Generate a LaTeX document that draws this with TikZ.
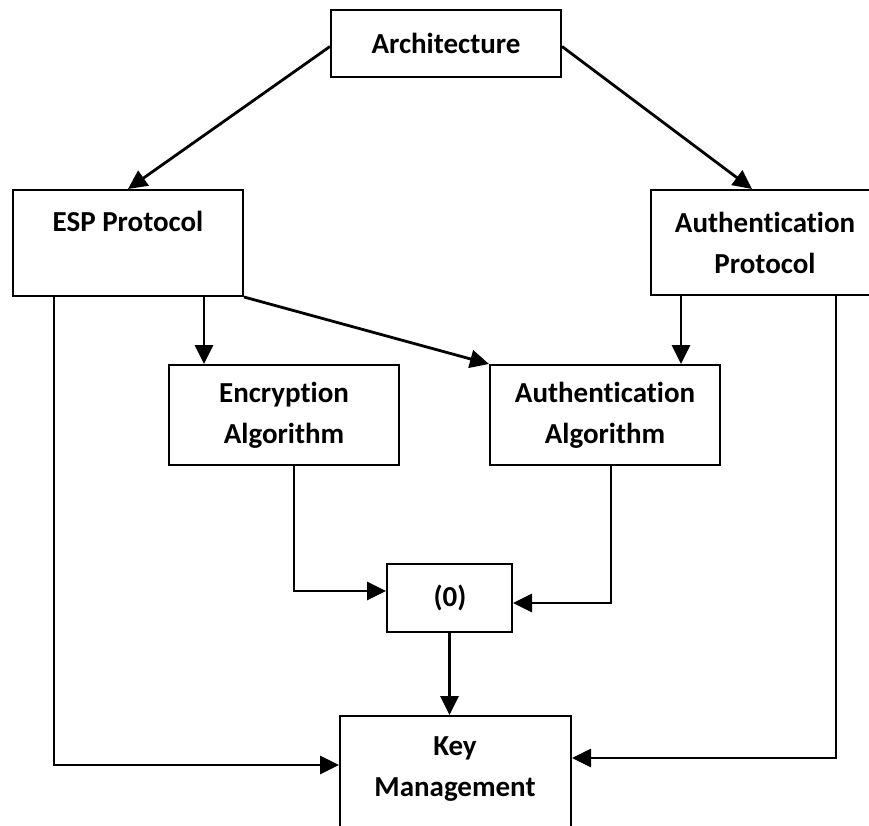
\documentclass[tikz,border=0pt]{standalone}
\usepackage{fontspec}
\setmainfont[Ligatures={NoCommon}]{Carlito}
\usetikzlibrary{arrows.meta,calc}
\tikzset{
  box/.style={draw=black, line width=2pt, minimum width=230pt, inner sep=0pt, fill=white},
  lbl/.style={font=\bfseries\fontsize{29}{41}\selectfont, align=center, inner sep=0pt},
  arr/.style={line width=2.8pt, -{Triangle[length=19pt,width=18pt]}},
}
\begin{document}
\begin{tikzpicture}[x=1pt,y=-1pt]
  \useasboundingbox (0,0) rectangle (869,825);
  \clip (0,0) rectangle (869,825);

  % boxes
  \node[box, minimum height=67pt]  (arch)  at (446,43.5) {};
  \node[box, minimum height=106pt] (esp)   at (128,243) {};
  \node[box, minimum height=105pt] (aprot) at (766,242.5) {};
  \node[box, minimum height=100pt] (enc)   at (284,415) {};
  \node[box, minimum height=100pt] (aalg)  at (605,415) {};
  \node[box, minimum width=125pt, minimum height=68pt] (zero) at (449.5,598) {};
  \node[box, minimum width=231pt, minimum height=140pt] (key) at (455.5,786) {};

  % labels
  \node[lbl] (tarch)  at (446,43) {Architecture};
  \node[lbl] (tesp)   at (128,221) {ESP Protocol};
  \node[lbl] (taprot) at (765,243) {Authentication\\Protocol};
  \node[lbl] (tenc)   at (284,415) {Encryption\\Algorithm};
  \node[lbl] (taalg)  at (605,415) {Authentication\\Algorithm};
  \node[lbl] (tzero)  at (450,598) {(0)};
  \node[lbl] (tkey)   at (455,769) {Key\\Management};

  % connector end points on box edges
  \coordinate (espdown)  at ($(esp.south west)+(192,0)$);
  \coordinate (espleft)  at ($(esp.south west)+(42,0)$);
  \coordinate (apdown)   at ($(aprot.south west)+(31,0)$);
  \coordinate (apright)  at ($(aprot.south west)+(186,0)$);
  \coordinate (encout)   at ($(enc.south west)+(126,0)$);
  \coordinate (aalgout)  at ($(aalg.south west)+(122,0)$);
  \coordinate (zeroin1)  at ($(zero.north west)+(0,28)$);
  \coordinate (zeroin2)  at ($(zero.north east)+(0,40)$);
  \coordinate (keyin1)   at ($(key.north west)+(0,50)$);
  \coordinate (keyin2)   at ($(key.north east)+(0,43)$);

  % connectors
  \draw[arr] ($(arch.west)+(0,3)$) -- (esp.north);
  \draw[arr] ($(arch.east)+(0,3)$) -- ($(aprot.north)+(-14,0)$);
  \draw[arr] (espdown) -- (espdown |- enc.north);
  \draw[arr] (esp.south east) -- (aalg.north west);
  \draw[arr] (apdown) -- (apdown |- aalg.north);
  \draw[arr] (apright) |- (keyin2);
  \draw[arr] (espleft) |- (keyin1);
  \draw[arr] (encout) |- (zeroin1);
  \draw[arr] (aalgout) |- (zeroin2);
  \draw[arr] (zero.south) -- (zero.south |- key.north);
\end{tikzpicture}
\end{document}
